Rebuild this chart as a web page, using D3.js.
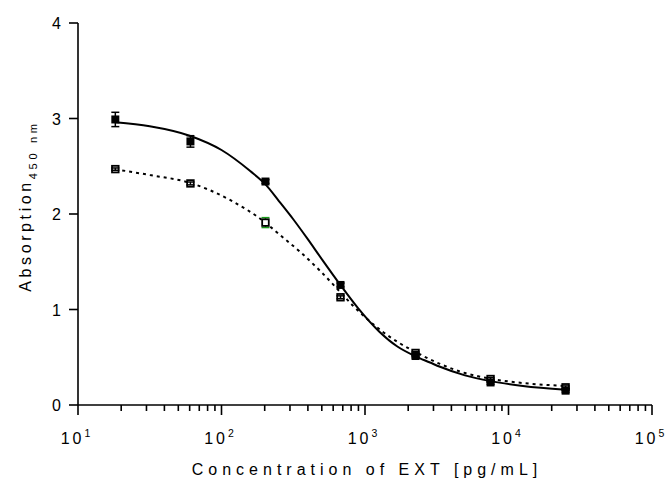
<!DOCTYPE html>
<html>
<head>
<meta charset="utf-8">
<script src="https://cdn.jsdelivr.net/npm/d3@7"></script>
<style>
  html, body { margin: 0; padding: 0; background: #fff; }
  svg { display: block; }
  text { font-family: Arial, "Liberation Sans", sans-serif; fill: #000; }
</style>
</head>
<body>
<svg id="chart" width="672" height="489"></svg>
<script>
// ---- data ----
const concentrations = [18.2, 60.75, 202.5, 675, 2250, 7500, 25000];
const filledValues = [2.99, 2.76, 2.34, 1.257, 0.513, 0.236, 0.15];
const filledErrors = [0.075, 0.06, 0.02, 0.02, 0.02, 0.02, 0.02];
const openValues = [2.47, 2.32, 1.91, 1.128, 0.545, 0.272, 0.185];
const openErrors = [0.012, 0.015, 0.052, 0.015, 0.015, 0.015, 0.015];

// fitted curves
const solidCurveX = [18.2, 31.6, 60.75, 100, 158.5, 202.5, 251.2, 316.2, 398.1, 501.2, 675, 891, 1259, 1671, 2250, 2838, 3332, 4976, 7500, 12620, 25000];
const solidCurveY = [2.96, 2.919, 2.817, 2.67, 2.45, 2.31, 2.136, 1.945, 1.739, 1.525, 1.255, 1.017, 0.768, 0.615, 0.51, 0.445, 0.40, 0.31, 0.25, 0.20, 0.16];
const dottedCurveX = [18.2, 31.7, 60.75, 114.6, 202.5, 255.6, 352, 486, 675, 825, 968, 1293, 1753, 2250, 3332, 4976, 7500, 12620, 25000];
const dottedCurveY = [2.468, 2.408, 2.325, 2.147, 1.909, 1.78, 1.605, 1.405, 1.18, 1.04, 0.94, 0.78, 0.645, 0.555, 0.43, 0.335, 0.275, 0.23, 0.20];

const yTicks = [0, 1, 2, 3, 4];
const xDecades = [1, 2, 3, 4, 5];
const xTitle = "Concentration of EXT [pg/mL]";
const yTitleMain = "Absorption";
const yTitleSub = "450 nm";

// ---- layout ----
const svg = d3.select("#chart");
const x = d3.scaleLog().domain([10, 1e5]).range([78, 652]);
const y = d3.scaleLinear().domain([0, 4]).range([405, 23]);

// ---- axes ----
const axisW = 1.6;
const xAxis = svg.append("g");
xAxis.append("line").attr("x1", x(10)).attr("x2", x(1e5)).attr("y1", y(0)).attr("y2", y(0))
  .attr("stroke", "#000").attr("stroke-width", axisW);
const minorTicks = [];
for (let d = 1; d < 5; d++) for (let m = 2; m <= 9; m++) minorTicks.push(m * Math.pow(10, d));
xAxis.selectAll("line.minor").data(minorTicks).join("line").attr("class", "minor")
  .attr("x1", d => x(d)).attr("x2", d => x(d)).attr("y1", y(0)).attr("y2", y(0) + 6)
  .attr("stroke", "#000").attr("stroke-width", axisW);
xAxis.selectAll("line.major").data(xDecades).join("line").attr("class", "major")
  .attr("x1", d => x(Math.pow(10, d))).attr("x2", d => x(Math.pow(10, d)))
  .attr("y1", y(0)).attr("y2", y(0) + 10)
  .attr("stroke", "#000").attr("stroke-width", axisW);
const xl = xAxis.selectAll("text.xl").data(xDecades).join("text").attr("class", "xl")
  .attr("x", d => x(Math.pow(10, d)) - 1).attr("y", 444)
  .attr("text-anchor", "middle").style("font-size", "16px").style("letter-spacing", "3px");
xl.append("tspan").text("10");
xl.append("tspan").attr("dy", -7).style("font-size", "10.5px").text(d => d);

const yAxis = svg.append("g");
yAxis.append("line").attr("x1", x(10)).attr("x2", x(10)).attr("y1", y(0)).attr("y2", y(4))
  .attr("stroke", "#000").attr("stroke-width", axisW);
yAxis.selectAll("line.yt").data(yTicks).join("line").attr("class", "yt")
  .attr("x1", x(10) - 9).attr("x2", x(10)).attr("y1", d => y(d)).attr("y2", d => y(d))
  .attr("stroke", "#000").attr("stroke-width", axisW);
yAxis.selectAll("text.yl").data(yTicks).join("text").attr("class", "yl")
  .attr("x", 61).attr("y", d => y(d) + 6).attr("text-anchor", "end")
  .style("font-size", "16px").text(d => d);

// titles
svg.append("text").attr("x", 367).attr("y", 475).attr("text-anchor", "middle")
  .style("font-size", "16px").style("letter-spacing", "5px").text(xTitle);
const yt = svg.append("text").attr("transform", "translate(31,206) rotate(-90)")
  .attr("text-anchor", "middle").style("font-size", "16px").style("letter-spacing", "3.6px");
yt.append("tspan").text(yTitleMain);
yt.append("tspan").attr("dy", 6).style("font-size", "11px").style("letter-spacing", "3.7px").text(yTitleSub);

// ---- curves ----
const line = d3.line().x(d => x(d[0])).y(d => y(d[1])).curve(d3.curveMonotoneX);
svg.append("path").datum(dottedCurveX.map((c, i) => [c, dottedCurveY[i]]))
  .attr("d", line).attr("fill", "none").attr("stroke", "#000").attr("stroke-width", 2)
  .attr("stroke-dasharray", "3,4");
svg.append("path").datum(solidCurveX.map((c, i) => [c, solidCurveY[i]]))
  .attr("d", line).attr("fill", "none").attr("stroke", "#000").attr("stroke-width", 2);

// ---- open series ----
const openData = concentrations.map((c, i) => ({ c, v: openValues[i], e: openErrors[i], i }));
const filledData = concentrations.map((c, i) => ({ c, v: filledValues[i], e: filledErrors[i], i }));
const capW = 4;
function errBars(g, data, color) {
  const eb = g.selectAll("g").data(data).join("g").attr("stroke", d => color(d)).attr("stroke-width", 1.5);
  eb.append("line").attr("x1", d => x(d.c)).attr("x2", d => x(d.c)).attr("y1", d => y(d.v + d.e)).attr("y2", d => y(d.v - d.e));
  eb.append("line").attr("x1", d => x(d.c) - capW).attr("x2", d => x(d.c) + capW).attr("y1", d => y(d.v + d.e)).attr("y2", d => y(d.v + d.e));
  eb.append("line").attr("x1", d => x(d.c) - capW).attr("x2", d => x(d.c) + capW).attr("y1", d => y(d.v - d.e)).attr("y2", d => y(d.v - d.e));
}
const openG = svg.append("g");
errBars(openG.append("g"), openData.filter(d => d.i === 2), () => "#1a9a1a");
openG.append("g").selectAll("rect").data(openData).join("rect")
  .attr("x", d => x(d.c) - 3.3).attr("y", d => y(d.v) - 3.3).attr("width", 6.6).attr("height", 6.6)
  .attr("fill", "#fff").attr("stroke", "#000").attr("stroke-width", 1.8);
errBars(openG.append("g"), openData.filter(d => d.i !== 2), () => "#000");

// ---- filled series ----
const filledG = svg.append("g");
errBars(filledG.append("g"), filledData, () => "#000");
filledG.append("g").selectAll("rect").data(filledData).join("rect")
  .attr("x", d => x(d.c) - 4).attr("y", d => y(d.v) - 4).attr("width", 8).attr("height", 8)
  .attr("fill", "#000");
</script>
</body>
</html>
